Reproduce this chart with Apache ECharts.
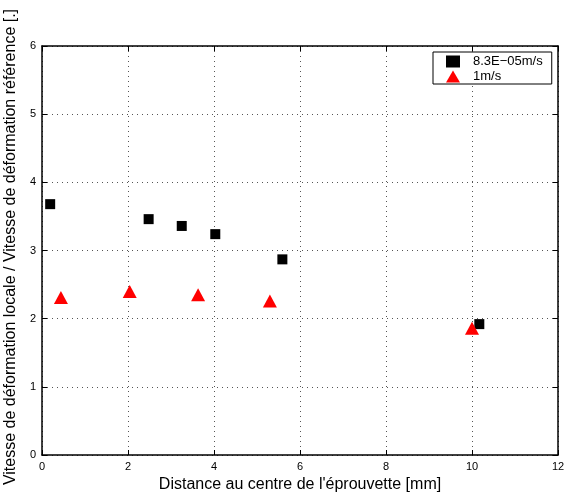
<!DOCTYPE html>
<html><head><meta charset="utf-8">
<script src="https://cdn.jsdelivr.net/npm/echarts@6/dist/echarts.min.js"></script>
<style>html,body{margin:0;padding:0;background:#fff}#c{width:565px;height:496px}</style>
</head><body><div id="c"></div>
<script>
const seriesNames = ['8.3E\u221205m/s', '1m/s'];
const slowX = [0.19, 2.48, 3.25, 4.03, 5.59, 10.17];
const slowY = [3.68, 3.46, 3.36, 3.24, 2.87, 1.92];
const fastX = [0.44, 2.04, 3.63, 5.30, 10.0];
const fastY = [2.31, 2.40, 2.35, 2.26, 1.86];
const xTicks = [0, 2, 4, 6, 8, 10, 12];
const yTicks = [0, 1, 2, 3, 4, 5, 6];
const xLabel = "Distance au centre de l'éprouvette [mm]";
const yLabel = 'Vitesse de déformation locale / Vitesse de déformation référence [.]';

const font = 'Liberation Sans, Arial, sans-serif';
const chart = echarts.init(document.getElementById('c'));
const grid = {type:[1,4], color:'#555', width:1};
const axisCommon = {
  axisLine:{show:true, onZero:false, lineStyle:{color:'#000', width:1.5}},
  axisTick:{show:true, inside:true, length:5, lineStyle:{color:'#000'}},
  axisLabel:{color:'#000', fontSize:11, fontFamily:font},
};
chart.setOption({
  animation:false,
  backgroundColor:'#fff',
  grid:{left:42, right:7, top:46, bottom:41, containLabel:false, outerBoundsMode:'none'},
  legend:{
    orient:'vertical', left:433, top:52,
    backgroundColor:'#fff', borderColor:'#000', borderWidth:1,
    padding:[3, 9, 1, 13], itemGap:2, itemWidth:14, itemHeight:12,
    textStyle:{fontSize:13, fontFamily:font, color:'#000', padding:[0,0,0,8]},
    data:seriesNames
  },
  xAxis:[
    Object.assign({type:'value', min:xTicks[0], max:xTicks[xTicks.length-1], interval:2,
      name:xLabel, nameLocation:'middle', nameGap:17,
      nameTextStyle:{fontSize:16, fontFamily:font, color:'#000'},
      splitLine:{show:true, lineStyle:grid}}, axisCommon,
      {axisLabel:{color:'#000', fontSize:11, fontFamily:font, margin:6, showMaxLabel:true}}),
    Object.assign({type:'value', position:'top', min:0, max:12, interval:2, splitLine:{show:false}}, axisCommon, {axisLabel:{show:false}})
  ],
  yAxis:[
    Object.assign({type:'value', min:yTicks[0], max:yTicks[yTicks.length-1], interval:1,
      name:yLabel, nameLocation:'middle', nameGap:18,
      nameTextStyle:{fontSize:16, fontFamily:font, color:'#000', padding:[0,0,0,7]},
      splitLine:{show:true, lineStyle:grid}}, axisCommon,
      {axisLabel:{color:'#000', fontSize:11, fontFamily:font, margin:6}}),
    Object.assign({type:'value', position:'right', min:0, max:6, interval:1, splitLine:{show:false}}, axisCommon, {axisLabel:{show:false}})
  ],
  series:[
    {name:seriesNames[0], type:'scatter', symbol:'rect', symbolSize:10,
     itemStyle:{color:'#000', opacity:1}, data:slowX.map((x,i)=>[x, slowY[i]]), z:3},
    {name:seriesNames[1], type:'scatter', symbol:'triangle', symbolSize:[14,13],
     itemStyle:{color:'#ff0000', opacity:1}, data:fastX.map((x,i)=>[x, fastY[i]]), z:4}
  ]
});
</script></body></html>
